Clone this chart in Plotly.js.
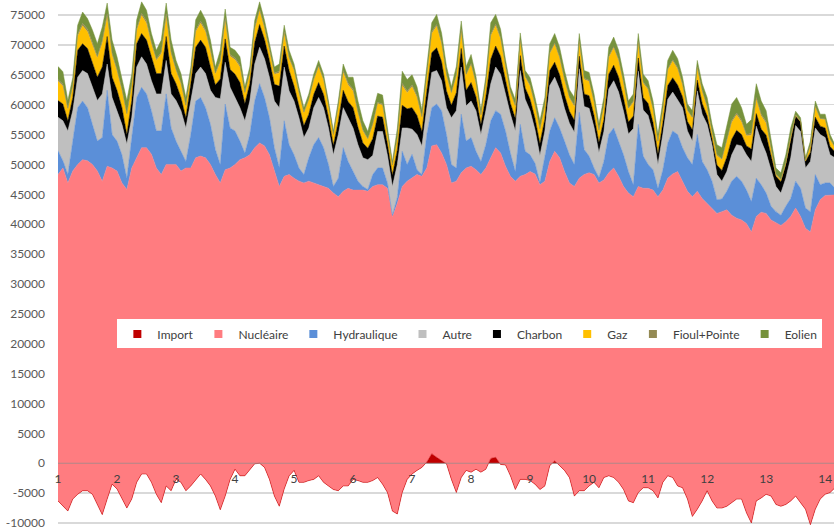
<!DOCTYPE html>
<html>
<head>
<meta charset="utf-8">
<script src="https://cdn.plot.ly/plotly-3.0.1.min.js"></script>
<style>html,body{margin:0;padding:0;background:#fff}#chart{width:834px;height:530px}</style>
</head>
<body>
<div id="chart"></div>
<script>
// Production d'électricité (MW), pas de 2 h, jours 1 à 14
const seriesNames = ["Import", "Nucléaire", "Hydraulique", "Autre", "Charbon", "Gaz", "Fioul+Pointe", "Eolien"];
const seriesColors = ["#C00000", "#FF7C80", "#5B8FD8", "#BFBFBF", "#000000", "#FFC000", "#948A54", "#76923C"];

const dayTickVals = [1,2,3,4,5,6,7,8,9,10,11,12,13,14];
const dayTickText = ["1","2","3","4","5","6","7","8","9","10","11","12","13","14"];
const yTickVals = [-10000,-5000,0,5000,10000,15000,20000,25000,30000,35000,40000,45000,50000,55000,60000,65000,70000,75000];
const yTickText = ["-10000","-5000","0","5000","10000","15000","20000","25000","30000","35000","40000","45000","50000","55000","60000","65000","70000","75000"];

const importMW = [
 -6300,-7200,-8000,-6000,-5200,-4600,-4600,-5200,-6900,-8600,-6000,-3500,
 -4300,-6000,-7500,-6000,-3200,-1800,-1800,-3200,-5200,-6600,-3800,-4600,
 -2700,-3200,-4600,-3800,-2700,-1800,-2700,-3800,-5500,-7800,-5500,-2700,
 -1000,-2100,-2100,-1000,-100,0,-700,-2700,-5500,-7200,-4300,-2100,
 -1200,-3200,-3200,-2900,-2700,-2100,-3200,-3800,-4400,-4600,-3800,-3800,
 -2700,-2900,-3200,-3200,-2900,-2400,-3500,-4900,-8000,-8500,-4900,-2700,
 -1800,-1200,-700,200,1600,1000,400,-100,-2700,-4900,-2400,-1200,
 -1500,-1000,-1500,-1000,800,1000,-200,-300,-2100,-4400,-2700,-2700,
 -2900,-3500,-4400,-3800,-400,400,-400,-1200,-2400,-5500,-4600,-4600,
 -3800,-3200,-4100,-2400,-2100,-2400,-3200,-4400,-6300,-6600,-4900,-4100,
 -4100,-4600,-5800,-3200,-2100,-2400,-3800,-4100,-6000,-8900,-7700,-6300,
 -4600,-6300,-7500,-7500,-7200,-6600,-6000,-6000,-8300,-10000,-6300,-5800,
 -5200,-5500,-6900,-7200,-6900,-6300,-5500,-6600,-7700,-10300,-7700,-6000,
 -5200,-4900,-4100
];
const nucleaireMW = [
 54600,56600,54900,54900,55200,55400,55200,55200,55800,55800,55700,52900,
 53200,52900,53300,55400,54300,54600,54600,54900,54600,54900,53800,54600,
 52700,52100,54000,53200,53800,53200,53800,53800,53800,54700,54600,52100,
 51000,52900,53200,52600,52900,53600,53800,54300,54300,53500,52300,50400,
 48900,50400,50100,50100,49600,48700,49500,49800,49600,49200,49300,49800,
 48400,48600,48900,48700,49200,49000,50100,50900,49200,52000,51200,49900,
 49500,49500,48700,49200,51500,52300,51500,50100,49600,52100,51000,50600,
 51200,50100,49800,50400,50300,51800,52100,50000,50100,51600,50700,51000,
 51700,51900,51000,51000,50900,51800,51500,50000,49300,51800,52300,52900,
 52400,51500,51000,49800,50700,51800,51200,50700,51500,51200,51200,50100,
 50100,50300,50400,48900,49800,50800,52600,51300,51500,53500,53200,50600,
 48100,49000,49300,49600,49600,48100,47000,46700,48400,48700,47600,47800,
 47000,46200,47200,47000,47300,47600,48200,47900,47000,49000,50100,50100,
 50000,49800,49000
];
const hydrauliqueMW = [
 4000,1200,1400,5000,9500,9800,8900,6700,5000,7300,12700,5600,
 5000,4700,1900,5100,10100,10100,9000,7300,6200,7300,11800,6100,
 3900,3300,1100,5600,9500,9800,8400,6700,4200,3100,11000,6700,
 5600,3100,800,3400,7800,9900,8100,6200,4000,3200,9300,5000,
 3900,2200,1400,3900,6400,7900,6500,4000,1100,3100,7300,4500,
 3100,1500,600,300,2000,2800,2800,900,300,1000,5900,2800,
 4000,800,300,5600,6400,6800,7100,5000,3100,2200,9800,4500,
 4800,3100,2200,3900,6200,6200,6500,5900,3900,1600,8700,3900,
 2800,1800,400,3900,5100,5600,5000,5100,4700,3700,11000,4200,
 2800,1100,900,3100,6400,6700,5900,5300,3600,2000,10400,5400,
 4000,3400,1400,3400,5900,7200,6200,5600,5600,5400,9500,6200,
 5600,4500,2300,2100,3100,5700,7000,6500,5600,5100,6400,4600,
 3400,2300,1800,1700,2600,3000,4500,4700,3400,3400,5900,2500,
 2100,2000,1100
];
const autreMW = [
 5600,6700,7300,5100,5100,5100,5700,6200,6800,7300,4400,6200,
 5100,5100,5700,3400,5100,5100,5000,5000,6200,6200,5600,5700,
 6800,6800,5600,5700,4600,5100,5700,5700,8700,11000,7000,6800,
 5600,5600,5400,5600,6200,6100,6500,6800,7800,10000,9000,9000,
 9000,8400,6200,5000,6200,6700,6700,6100,5300,7300,6700,7300,
 7300,6100,4800,5000,3200,6100,6100,4600,4800,5500,3900,6100,
 4200,5900,4800,4500,5900,5600,5000,4500,7800,9600,7900,5900,
 6100,6800,4500,5700,6200,7300,6700,6200,6500,6800,9000,8700,
 7400,5600,4500,4500,7600,6800,6500,5500,5300,5400,7300,7200,
 8000,6800,4200,5000,7600,7900,8200,7300,6300,9400,8900,7700,
 8200,6000,4000,6000,7300,6500,5900,6700,4500,3900,7300,7900,
 7600,6100,4200,3000,3300,4400,5300,5900,5900,6700,8700,7300,
 6700,6100,4200,3700,4700,6800,9300,9500,6700,8400,7800,8400,
 7600,4700,5100
];
const charbonMW = [
 2800,2800,1700,2200,4500,4500,4200,3900,3900,4500,4600,3400,
 3400,2800,1600,2800,3900,3900,4000,4000,3400,3400,4000,3400,
 2800,2200,1700,2800,4400,4500,4400,3900,2100,3300,3900,3000,
 3900,4200,2900,2900,3600,3800,3200,2800,2800,3600,3500,3400,
 2500,2000,2000,2300,2200,2500,2200,1800,1600,2200,2900,2700,
 3400,2900,2500,1900,2800,2600,2400,1900,1900,2400,3800,3200,
 3600,3200,2400,2800,3300,3800,3200,2800,2100,3000,3100,2600,
 3100,2300,1700,2300,4100,3500,3000,2300,1800,2100,2500,1900,
 1900,1900,2000,2000,2500,2500,2400,2200,2000,2000,2100,2100,
 2100,2000,1700,2000,2500,2600,2500,2200,2000,2100,2200,2100,
 2000,1900,1800,1900,2300,2400,2400,1800,1600,1900,1800,1800,
 1400,1000,1600,1800,2400,2600,2400,1900,1500,2100,2100,2000,
 3000,2400,1700,1900,2200,2900,1600,1600,1100,1500,1800,1400,
 1600,1400,1000
];
const gazMW = [
 3200,3000,1900,1800,2400,3000,2800,3300,3200,4000,3300,3700,
 3200,2900,3300,2600,2200,3000,2800,2200,2200,3300,3300,3300,
 2200,2300,1900,1500,2600,2800,2600,2600,1800,2800,3000,2200,
 2400,2600,1700,1700,2200,2300,1900,1700,1700,2200,2100,2000,
 2600,2100,2100,2400,2400,2600,2400,1900,1700,2400,3000,2800,
 2800,2400,2000,1500,2300,2100,2000,1600,1600,2000,3300,2700,
 3500,3000,2300,2600,3200,3600,3000,2600,2000,2800,2900,2500,
 3000,2200,1500,2200,3900,3400,2900,2200,1800,2000,2400,1800,
 2200,2200,2300,2200,2800,3000,2800,2500,2200,2300,2300,2400,
 2400,2200,1900,2300,2800,2900,2800,2500,2200,2300,2500,2400,
 2300,2200,2000,2200,2600,2800,2700,2000,1800,2000,2000,2000,
 1500,1100,1600,1800,2600,2800,2600,2100,1700,2300,2400,2200,
 2000,900,300,300,400,600,100,100,100,1100,1700,1200,
 1400,1200,700
];
const fioulPointeMW = [
 300,300,200,200,300,400,400,400,300,400,500,300,
 300,200,200,200,300,400,400,300,300,300,500,300,
 200,200,200,200,300,400,300,300,200,300,500,300,
 300,300,150,150,300,300,200,200,200,300,300,200,
 200,200,150,150,200,200,200,150,100,200,300,300,
 300,200,200,150,200,200,200,150,100,200,400,300,
 300,300,200,200,300,300,300,200,150,200,300,200,
 200,200,100,200,300,300,200,200,150,150,200,150,
 200,150,150,200,200,200,200,200,150,200,300,200,
 200,150,150,150,200,200,200,200,150,200,300,200,
 200,150,100,150,200,200,200,150,100,100,200,150,
 150,100,150,150,300,300,300,300,200,300,300,300,
 300,200,100,100,100,150,100,100,100,100,150,100,
 100,100,100
];
const eolienMW = [
 2200,2100,1300,1300,1500,1900,1800,2000,2100,2300,1800,2200,
 2100,2000,2200,1600,1500,1900,1800,1400,1400,2000,1800,2000,
 1500,1500,1300,1000,1700,1800,1700,1600,1000,1700,1500,1200,
 1300,1400,950,950,1200,1200,1100,900,1000,1200,1100,1200,
 900,800,750,850,800,900,800,650,600,800,1100,1000,
 2000,1800,1500,1150,1700,1500,1500,1150,600,1400,2000,1900,
 1700,1500,1100,1300,1500,1700,1500,1300,950,1400,1400,1300,
 1500,1000,800,1000,1900,1600,1400,1000,850,950,1200,950,
 1200,1150,1350,1200,1500,1600,1600,1400,1250,1300,1200,1300,
 1300,1250,1050,1250,1500,1600,1500,1300,1150,1200,1300,1300,
 1300,1250,1100,1250,1400,1600,1500,1150,1000,1100,1100,1150,
 1450,1200,1650,1850,2600,2800,2600,2100,1700,2300,2300,2200,
 1800,1300,1000,1100,1200,1350,600,500,400,700,850,700,
 800,700,400
];

const seriesValues = [importMW, nucleaireMW, hydrauliqueMW, autreMW, charbonMW, gazMW, fioulPointeMW, eolienMW];
// time axis: day number, one sample every 2 hours starting at day 1, 0 h
const dayPos = importMW.map((_, i) => 1 + i / 12);

const yMin = -11170, yMax = 77510;
const FONT = "Lato, 'Open Sans', sans-serif";

const traces = [];
seriesValues.forEach((vals, k) => {
  traces.push({
    type: "scatter", mode: "lines", x: dayPos, y: vals,
    stackgroup: "prod", name: seriesNames[k], legendgroup: seriesNames[k],
    showlegend: false, line: {width: 0.5, color: seriesColors[k]},
    fillcolor: seriesColors[k], hoverinfo: "x+y+name"
  });
});
seriesNames.forEach((nm, k) => {
  traces.push({
    type: "scatter", mode: "markers", x: [null], y: [null], name: nm,
    legendgroup: nm, showlegend: true, hoverinfo: "skip",
    marker: {symbol: "square", size: 8, color: seriesColors[k]}
  });
});

const layout = {
  width: 834, height: 530,
  margin: {l: 58, r: 0, t: 0, b: 0, autoexpand: false},
  paper_bgcolor: "#ffffff", plot_bgcolor: "#ffffff",
  font: {family: FONT, size: 12, color: "#404040"},
  showlegend: true,
  legend: {
    orientation: "h", x: 0.985, xanchor: "right", y: 0.37, yanchor: "middle",
    bgcolor: "#ffffff", borderwidth: 0, traceorder: "normal", itemwidth: 30,
    font: {family: FONT, size: 12, color: "#404040"}
  },
  xaxis: {
    range: [1, 14.15], tickmode: "array", tickvals: dayTickVals, ticktext: dayTickText,
    showgrid: false, zeroline: false, showline: false, ticks: "",
    anchor: "free", position: (0 - yMin) / (yMax - yMin), automargin: false,
    tickfont: {family: FONT, size: 12, color: "#404040"}, ticklabelstandoff: 7,
    ticklabeloverflow: "allow"
  },
  yaxis: {
    range: [yMin, yMax], tickmode: "array", tickvals: yTickVals, ticktext: yTickText,
    showgrid: true, gridcolor: "#D9D9D9", gridwidth: 1.5, zeroline: false, showline: false,
    ticks: "", ticklabelstandoff: 12, automargin: false, ticklabeloverflow: "allow",
    tickfont: {family: FONT, size: 12, color: "#595959"}
  },
  shapes: [{
    type: "line", xref: "paper", x0: 0, x1: 1, yref: "y", y0: 0, y1: 0,
    line: {color: "rgba(140,140,140,0.7)", width: 1}, layer: "above"
  }]
};

Plotly.newPlot("chart", traces, layout, {displayModeBar: false, staticPlot: true});
</script>
</body>
</html>
